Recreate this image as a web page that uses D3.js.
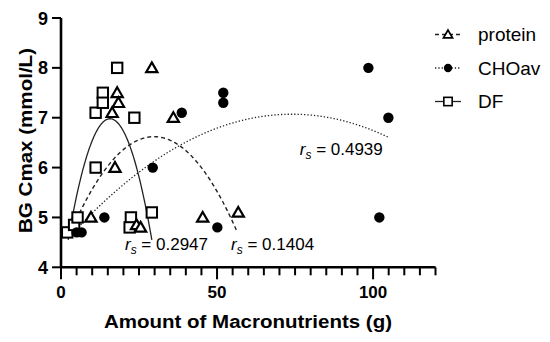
<!DOCTYPE html>
<html>
<head>
<meta charset="utf-8">
<script src="https://cdn.jsdelivr.net/npm/d3@7"></script>
<style>
  body { margin: 0; background: #fff; }
  svg text { font-family: "Liberation Sans", Arial, sans-serif; fill: #000; }
</style>
</head>
<body>
<svg id="chart" width="550" height="342"></svg>
<script>
// data: [amount (g), BG Cmax (mmol/L)]
var proteinPts = [[29.1, 8.0], [18.0, 7.5], [18.4, 7.3], [16.4, 7.1], [17.3, 6.0],
                  [9.6, 5.0], [24.2, 4.85], [25.5, 4.8], [36.0, 7.0], [45.4, 5.0], [56.8, 5.1]];
var choPts = [[5.0, 4.7], [6.6, 4.7], [13.9, 5.0], [29.4, 6.0], [38.7, 7.1], [52.0, 7.5],
              [52.0, 7.3], [50.1, 4.8], [98.5, 8.0], [104.9, 7.0], [102.0, 5.0]];
var dfPts = [[2.0, 4.7], [4.2, 4.85], [5.3, 5.0], [11.1, 6.0], [11.1, 7.1], [13.4, 7.5],
             [13.4, 7.3], [18.0, 8.0], [23.5, 7.0], [22.4, 5.0], [22.0, 4.8], [29.1, 5.1]];

// quadratic fits: [vertex x, vertex y, curvature, x from, x to]
var proteinFit = [29.8, 6.62, 0.00269, 4.0, 56.5];
var choFit = [74.0, 7.07, 0.000484, 3.4, 104.9];
var dfFit = [15.7, 6.98, 0.01353, 2.3, 29.1];

var xTicks = [0, 50, 100];
var yTicks = [4, 5, 6, 7, 8, 9];
var legendNames = ['protein', 'CHOav', 'DF'];
var rsLabels = [['0.2947', 20.5, 4.35], ['0.1404', 54.5, 4.35], ['0.4939', 76.5, 6.25]];

var svg = d3.select('#chart');
var x = d3.scaleLinear().domain([0, 120]).range([61, 435.5]);
var y = d3.scaleLinear().domain([4, 9]).range([267.3, 18]);

// axes
var xAxis = svg.append('g').attr('transform', 'translate(0,' + y(4) + ')');
xAxis.append('path').attr('d', 'M' + x(0) + ',0H' + x(120))
    .attr('stroke', '#000').attr('stroke-width', 2.6).attr('fill', 'none');
xAxis.selectAll('.minor').data(d3.range(0, 121, 5)).enter().append('line')
    .attr('x1', function(d){ return x(d); }).attr('x2', function(d){ return x(d); })
    .attr('y1', 0).attr('y2', function(d){ return xTicks.indexOf(d) >= 0 ? 12 : 8; })
    .attr('stroke', '#000').attr('stroke-width', 2);
xAxis.selectAll('.lbl').data(xTicks).enter().append('text')
    .attr('x', function(d){ return x(d); }).attr('y', 31)
    .attr('text-anchor', 'middle').attr('font-size', 17).attr('font-weight', 'bold')
    .text(function(d){ return d; });

var yAxis = svg.append('g').attr('transform', 'translate(' + x(0) + ',0)');
yAxis.append('path').attr('d', 'M0,' + y(4) + 'V' + y(9))
    .attr('stroke', '#000').attr('stroke-width', 2.6).attr('fill', 'none');
yAxis.selectAll('line').data(yTicks).enter().append('line')
    .attr('x1', -9).attr('x2', 0)
    .attr('y1', function(d){ return y(d); }).attr('y2', function(d){ return y(d); })
    .attr('stroke', '#000').attr('stroke-width', 2);
yAxis.selectAll('text').data(yTicks).enter().append('text')
    .attr('x', -13).attr('y', function(d){ return y(d) + 6.5; })
    .attr('text-anchor', 'end').attr('font-size', 18).attr('font-weight', 'bold')
    .text(function(d){ return d; });

svg.append('text').attr('transform', 'translate(31.5,140.5) rotate(-90)')
    .attr('text-anchor', 'middle').attr('font-size', 19).attr('font-weight', 'bold')
    .attr('textLength', 185).attr('lengthAdjust', 'spacingAndGlyphs')
    .text('BG Cmax (mmol/L)');
svg.append('text').attr('x', 248).attr('y', 327.5)
    .attr('text-anchor', 'middle').attr('font-size', 18).attr('font-weight', 'bold')
    .attr('textLength', 288).attr('lengthAdjust', 'spacingAndGlyphs')
    .text('Amount of Macronutrients (g)');

// fit curves
var line = d3.line().x(function(d){ return x(d[0]); }).y(function(d){ return y(d[1]); });
function fitPath(f){
    var pts = d3.range(f[3], f[4], 0.25).concat([f[4]]);
    return line(pts.map(function(v){ return [v, f[1] - f[2] * (v - f[0]) * (v - f[0])]; }));
}
var styles = {
    protein: { dash: '4,3', width: 1.4 },
    CHOav: { dash: '1.3,2', width: 1.3 },
    DF: { dash: null, width: 1.3 }
};
[[proteinFit, 'protein'], [choFit, 'CHOav'], [dfFit, 'DF']].forEach(function(p){
    svg.append('path').attr('d', fitPath(p[0])).attr('fill', 'none')
        .attr('stroke', '#222').attr('stroke-width', styles[p[1]].width)
        .attr('stroke-dasharray', styles[p[1]].dash);
});

// markers (k scales them down for the legend)
function drawTri(g, px, py, k){
    k = k || 1;
    g.append('path').attr('d', d3.symbol().type(d3.symbolTriangle).size(55 * k * k)())
        .attr('transform', 'translate(' + px + ',' + (py + k) + ')')
        .attr('fill', '#fff').attr('stroke', '#000').attr('stroke-width', 2.2 * k);
}
function drawSq(g, px, py, k){
    k = k || 1;
    var h = 5.2 * k;
    g.append('rect').attr('x', px - h).attr('y', py - h).attr('width', 2 * h).attr('height', 2 * h)
        .attr('fill', '#fff').attr('stroke', '#000').attr('stroke-width', 2 * k);
}
function drawDot(g, px, py, k){
    g.append('circle').attr('cx', px).attr('cy', py).attr('r', 5.2 * (k || 1)).attr('fill', '#000');
}
var marks = svg.append('g');
dfPts.forEach(function(d){ drawSq(marks, x(d[0]), y(d[1])); });
proteinPts.forEach(function(d){ drawTri(marks, x(d[0]), y(d[1])); });
choPts.forEach(function(d){ drawDot(marks, x(d[0]), y(d[1])); });

// r_s labels
rsLabels.forEach(function(r){
    var t = svg.append('text').attr('x', x(r[1])).attr('y', y(r[2])).attr('font-size', 17).attr('fill', '#222');
    t.append('tspan').attr('font-style', 'italic').text('r');
    t.append('tspan').attr('font-style', 'italic').attr('font-size', 12).attr('dy', 4).text('s');
    t.append('tspan').attr('dy', -4).text(' = ' + r[0]);
});

// legend
var drawers = [drawTri, drawDot, drawSq];
var legend = svg.append('g');
legendNames.forEach(function(n, i){
    var ly = 34.5 + i * 33.5;
    legend.append('line').attr('x1', 435).attr('x2', 461).attr('y1', ly).attr('y2', ly)
        .attr('stroke', '#222').attr('stroke-width', styles[n].width)
        .attr('stroke-dasharray', styles[n].dash);
    drawers[i](legend, 448, ly, 0.8);
    legend.append('text').attr('x', 478).attr('y', ly + 6.5).attr('font-size', 19).attr('fill', '#222').text(n);
});
</script>
</body>
</html>
